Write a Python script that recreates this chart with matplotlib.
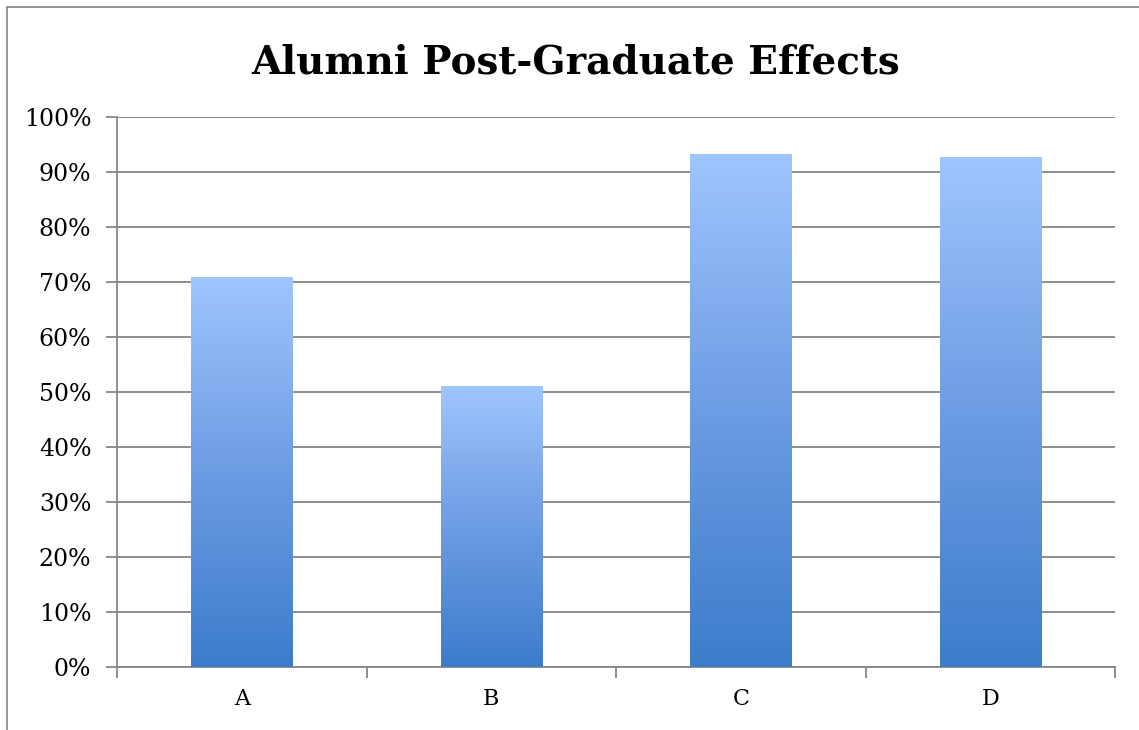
import matplotlib
matplotlib.use("Agg")
import matplotlib.pyplot as plt
import numpy as np
from matplotlib.colors import LinearSegmentedColormap
from matplotlib.patches import Rectangle

categories = ["A", "B", "C", "D"]
values = [70.9, 51.1, 93.2, 92.7]
y_ticks = [0, 10, 20, 30, 40, 50, 60, 70, 80, 90, 100]
y_tick_labels = [f"{t}%" for t in y_ticks]
title = "Alumni Post-Graduate Effects"

W, H = 1139, 730
fig = plt.figure(figsize=(W / 100, H / 100), dpi=100)
fig.patch.set_facecolor("white")

# outer frame (left and top visible)
fig.patches.append(Rectangle((7 / W, -0.1), 1.2, 1 - 7 / H + 0.1, transform=fig.transFigure,
                             fill=False, edgecolor="#8c8c8c", linewidth=1.3))

ax = fig.add_axes([117 / W, 1 - 667 / H, (1115 - 117) / W, (667 - 117) / H])
grey = "#868686"
serif = ["DejaVu Serif"]

x = np.arange(len(categories))
bw = 0.405
bars = ax.bar(x, values, width=bw, color="none", edgecolor="none", zorder=3)

cmap = LinearSegmentedColormap.from_list("g", ["#3d7ccb", "#6c9ce3", "#9fc5fd"])
grad = np.linspace(0, 1, 256).reshape(-1, 1)
for b in bars:
    x0 = b.get_x(); w = b.get_width(); h = b.get_height()
    im = ax.imshow(grad, cmap=cmap, origin="lower", aspect="auto",
                   extent=(x0, x0 + w, 0, h), zorder=3, interpolation="bicubic")
    im.set_clip_path(b)

ax.set_xlim(-0.5, len(categories) - 0.5)
ax.set_ylim(0, 100)
ax.set_yticks(y_ticks)
ax.set_yticklabels(y_tick_labels, fontfamily=serif, fontsize=17)
ax.set_xticks(x)
ax.set_xticklabels(categories, fontfamily=serif, fontsize=16)
ax.tick_params(axis="x", length=0, pad=15)
ax.set_xticks(np.arange(-0.5, len(categories)), minor=True)
ax.tick_params(axis="x", which="minor", length=8, color=grey, width=1.3, direction="out")
ax.tick_params(axis="y", length=8, color=grey, width=1.3, direction="out", pad=10.5)

ax.yaxis.grid(True, color=grey, linewidth=1.3, zorder=0)
ax.set_axisbelow(True)
for s in ["top", "right"]:
    ax.spines[s].set_visible(False)
for s in ["left", "bottom"]:
    ax.spines[s].set_color(grey)
    ax.spines[s].set_linewidth(1.3)

fig.text(576 / W, 1 - 73 / H, title, ha="center", va="baseline",
         fontsize=28, fontweight="bold", fontfamily=["DejaVu Serif"])

fig.savefig("out.png", dpi=100, facecolor="white")
